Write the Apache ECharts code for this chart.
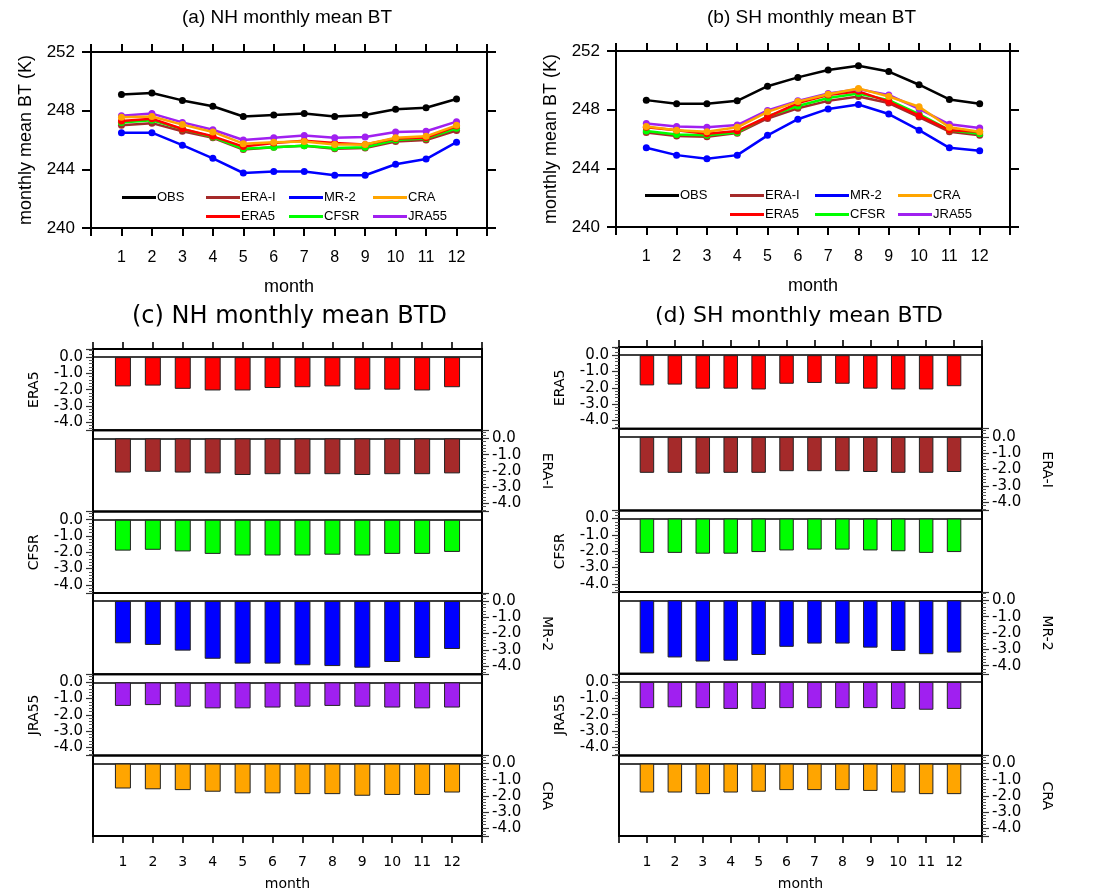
<!DOCTYPE html>
<html>
<head>
<meta charset="utf-8">
<script src="https://cdn.jsdelivr.net/npm/echarts@6/dist/echarts.min.js"></script>
<style>
html,body{margin:0;padding:0;background:#fff;}
#chart{width:1093px;height:892px;}
</style>
</head>
<body>
<div id="chart"></div>
<script>
// ---------------- DATA ----------------
const months = [1,2,3,4,5,6,7,8,9,10,11,12];
const monthLabels = ['1','2','3','4','5','6','7','8','9','10','11','12'];
const btTicks = [240, 244, 248, 252];
const lineSeriesNames = ['OBS','ERA-I','MR-2','CRA','ERA5','CFSR','JRA55'];
const barPanelNames = ['ERA5','ERA-I','CFSR','MR-2','JRA55','CRA'];
const legendRow1 = ['OBS','ERA-I','MR-2','CRA'];
const legendRow2 = ['ERA5','CFSR','JRA55'];

// (a) NH monthly mean BT (K)
const nhOBS   = [249.1, 249.2, 248.7, 248.3, 247.6, 247.7, 247.8, 247.6, 247.7, 248.1, 248.2, 248.8];
const nhERAI  = [247.0, 247.15, 246.6, 246.15, 245.35, 245.5, 245.6, 245.4, 245.45, 245.9, 246.0, 246.65];
const nhMR2   = [246.5, 246.5, 245.65, 244.75, 243.75, 243.85, 243.85, 243.6, 243.6, 244.35, 244.7, 245.85];
const nhCRA   = [247.55, 247.6, 247.05, 246.55, 245.75, 245.85, 245.9, 245.7, 245.7, 246.15, 246.25, 247.0];
const nhERA5  = [247.3, 247.45, 246.75, 246.25, 245.55, 245.8, 245.95, 245.8, 245.7, 246.1, 246.15, 246.95];
const nhCFSR  = [247.2, 247.35, 246.75, 246.2, 245.4, 245.5, 245.6, 245.45, 245.5, 246.0, 246.1, 246.8];
const nhJRA55 = [247.65, 247.8, 247.2, 246.7, 246.0, 246.15, 246.3, 246.15, 246.2, 246.55, 246.6, 247.25];

// (b) SH monthly mean BT (K)
const shOBS   = [248.65, 248.4, 248.4, 248.6, 249.6, 250.2, 250.7, 251.0, 250.6, 249.7, 248.7, 248.4];
const shERAI  = [246.45, 246.2, 246.15, 246.4, 247.4, 248.1, 248.6, 248.9, 248.45, 247.5, 246.5, 246.25];
const shMR2   = [245.4, 244.9, 244.65, 244.9, 246.25, 247.35, 248.05, 248.35, 247.7, 246.6, 245.4, 245.2];
const shCRA   = [246.85, 246.6, 246.5, 246.8, 247.85, 248.55, 249.05, 249.45, 248.9, 248.2, 246.8, 246.5];
const shERA5  = [246.8, 246.6, 246.35, 246.55, 247.5, 248.45, 249.0, 249.25, 248.55, 247.6, 246.6, 246.5];
const shCFSR  = [246.55, 246.3, 246.25, 246.45, 247.55, 248.25, 248.8, 249.1, 248.65, 247.7, 246.6, 246.35];
const shJRA55 = [247.05, 246.85, 246.8, 246.95, 247.95, 248.6, 249.1, 249.4, 249.0, 248.05, 247.0, 246.75];

// (c) NH monthly mean BTD (K)
const nhBtdERA5  = [-1.8, -1.75, -1.95, -2.05, -2.05, -1.9, -1.85, -1.8, -2.0, -2.0, -2.05, -1.85];
const nhBtdERAI  = [-2.1, -2.05, -2.1, -2.15, -2.25, -2.2, -2.2, -2.2, -2.25, -2.2, -2.2, -2.15];
const nhBtdCFSR  = [-1.9, -1.85, -1.95, -2.1, -2.2, -2.2, -2.2, -2.15, -2.2, -2.1, -2.1, -1.98];
const nhBtdMR2   = [-2.6, -2.7, -3.05, -3.55, -3.85, -3.85, -3.95, -4.0, -4.1, -3.75, -3.5, -2.95];
const nhBtdJRA55 = [-1.45, -1.4, -1.5, -1.6, -1.6, -1.55, -1.5, -1.45, -1.5, -1.55, -1.6, -1.55];
const nhBtdCRA   = [-1.55, -1.6, -1.65, -1.75, -1.85, -1.85, -1.9, -1.9, -2.0, -1.95, -1.95, -1.8];

// (d) SH monthly mean BTD (K)
const shBtdERA5  = [-1.85, -1.8, -2.05, -2.05, -2.1, -1.75, -1.7, -1.75, -2.05, -2.1, -2.1, -1.9];
const shBtdERAI  = [-2.2, -2.2, -2.25, -2.2, -2.2, -2.1, -2.1, -2.1, -2.15, -2.2, -2.2, -2.15];
const shBtdCFSR  = [-2.1, -2.1, -2.15, -2.15, -2.05, -1.95, -1.9, -1.9, -1.95, -2.0, -2.1, -2.05];
const shBtdMR2   = [-3.25, -3.5, -3.75, -3.7, -3.35, -2.85, -2.65, -2.65, -2.9, -3.1, -3.3, -3.2];
const shBtdJRA55 = [-1.6, -1.55, -1.6, -1.65, -1.65, -1.6, -1.6, -1.6, -1.6, -1.65, -1.7, -1.65];
const shBtdCRA   = [-1.8, -1.8, -1.9, -1.8, -1.75, -1.65, -1.65, -1.65, -1.7, -1.8, -1.9, -1.9];

// ---------------- STYLE ----------------
const colors = {
  'OBS':'#000000','ERA-I':'#a52a2a','MR-2':'#0000ff','CRA':'#ffa500',
  'ERA5':'#ff0000','CFSR':'#00ff00','JRA55':'#a020f0'
};
const FONT_TOP = '"Liberation Sans", Arial, sans-serif';
const FONT_BOT = '"DejaVu Sans", sans-serif';

const nhLines = {'OBS':nhOBS,'ERA-I':nhERAI,'MR-2':nhMR2,'CRA':nhCRA,'ERA5':nhERA5,'CFSR':nhCFSR,'JRA55':nhJRA55};
const shLines = {'OBS':shOBS,'ERA-I':shERAI,'MR-2':shMR2,'CRA':shCRA,'ERA5':shERA5,'CFSR':shCFSR,'JRA55':shJRA55};
const nhBars = {'ERA5':nhBtdERA5,'ERA-I':nhBtdERAI,'CFSR':nhBtdCFSR,'MR-2':nhBtdMR2,'JRA55':nhBtdJRA55,'CRA':nhBtdCRA};
const shBars = {'ERA5':shBtdERA5,'ERA-I':shBtdERAI,'CFSR':shBtdCFSR,'MR-2':shBtdMR2,'JRA55':shBtdJRA55,'CRA':shBtdCRA};

const grids = [], xAxes = [], yAxes = [], series = [], legends = [], graphics = [];

function monthFmt(v){ const i = months.indexOf(v); return i >= 0 ? monthLabels[i] : ''; }
function btdFmt(v){ return Math.abs(v - Math.round(v)) < 1e-6 ? v.toFixed(1) : ''; }

const blackLine = w => ({color:'#000', width:w});

function addLinePanel(rect, data, title, titleX, legendX, legendY) {
  const gi = grids.length;
  grids.push(Object.assign({show:false}, rect));
  const xi = xAxes.length;
  xAxes.push({gridIndex:gi, type:'value', min:0, max:13, interval:1, position:'bottom',
    axisLine:{show:true, onZero:false, lineStyle:blackLine(2)},
    axisTick:{show:true, length:8, lineStyle:blackLine(2)},
    axisLabel:{show:true, margin:22, color:'#000', fontSize:16, fontFamily:FONT_TOP, formatter:monthFmt},
    splitLine:{show:false},
    name:'month', nameLocation:'middle', nameGap:50,
    nameTextStyle:{color:'#000', fontSize:18, fontFamily:FONT_TOP}});
  xAxes.push({gridIndex:gi, type:'value', min:0, max:13, interval:1, position:'top',
    axisLine:{show:true, onZero:false, lineStyle:blackLine(2)},
    axisTick:{show:true, length:8, lineStyle:blackLine(2)},
    axisLabel:{show:false}, splitLine:{show:false}});
  const yi = yAxes.length;
  yAxes.push({gridIndex:gi, type:'value', min:btTicks[0], max:btTicks[btTicks.length-1], interval:4, position:'left',
    axisLine:{show:true, onZero:false, lineStyle:blackLine(2)},
    axisTick:{show:true, length:9, lineStyle:blackLine(2)},
    axisLabel:{show:true, margin:16, color:'#000', fontSize:17, fontFamily:FONT_TOP},
    splitLine:{show:false},
    name:'monthly mean BT (K)', nameLocation:'middle', nameGap:56, nameRotate:90,
    nameTextStyle:{color:'#000', fontSize:18, fontFamily:FONT_TOP}});
  yAxes.push({gridIndex:gi, type:'value', min:btTicks[0], max:btTicks[btTicks.length-1], interval:4, position:'right',
    axisLine:{show:true, onZero:false, lineStyle:blackLine(2)},
    axisTick:{show:true, length:9, lineStyle:blackLine(2)},
    axisLabel:{show:false}, splitLine:{show:false}});
  const order = ['OBS','MR-2','ERA-I','CFSR','ERA5','JRA55','CRA'];
  order.forEach((name, k) => {
    const c = colors[name];
    series.push({type:'line', name, xAxisIndex:xi, yAxisIndex:yi,
      data: months.map((m,i)=>[m, data[name][i]]),
      symbol:'circle', symbolSize:7, showSymbol:true,
      lineStyle:{color:c, width:2.5}, itemStyle:{color:c}, z:2+k, animation:false});
  });
  graphics.push({type:'text', left:titleX, top:8, style:{text:title, fill:'#000', font:'19px ' + FONT_TOP}});
  legendRow1.forEach((name, k) => legends.push(makeLegend(name, legendX[k], legendY[0])));
  legendRow2.forEach((name, k) => legends.push(makeLegend(name, legendX[k+1], legendY[1])));
}

function makeLegend(name, x, y) {
  return {data:[{name, icon:'rect'}], left:x, top:y - 8, orient:'horizontal', selectedMode:false,
    itemWidth:34, itemHeight:3, itemGap:0, padding:0,
    textStyle:{color:'#000', fontSize:13, fontFamily:FONT_TOP, padding:[0,0,0,-4]}};
}

function addBarPanel(left, top, width, subH, data, barWidth, title, titleX, titleSize) {
  barPanelNames.forEach((name, k) => {
    const gi = grids.length;
    grids.push({show:true, left, top: top + k*subH, width, height: subH,
      borderColor:'#000', borderWidth:2, backgroundColor:'transparent'});
    const xi = xAxes.length;
    xAxes.push({gridIndex:gi, type:'value', min:0, max:13, interval:1, position:'bottom',
      axisLine:{show:true, onZero:true, lineStyle:blackLine(1.6)},
      axisTick:{show:false}, axisLabel:{show:false}, splitLine:{show:false}});
    if (k === 0) {
      xAxes.push({gridIndex:gi, type:'value', min:0, max:13, interval:1, position:'top',
        axisLine:{show:false, onZero:false}, axisTick:{show:true, length:7, lineStyle:blackLine(1.6)},
        axisLabel:{show:false}, splitLine:{show:false}});
    }
    if (k === barPanelNames.length - 1) {
      xAxes.push({gridIndex:gi, type:'value', min:0, max:13, interval:1, position:'bottom',
        axisLine:{show:false, onZero:false}, axisTick:{show:true, length:7, lineStyle:blackLine(1.6)},
        axisLabel:{show:true, margin:19, color:'#000', fontSize:14, fontFamily:FONT_BOT, formatter:monthFmt},
        splitLine:{show:false},
        name:'month', nameLocation:'middle', nameGap:41,
        nameTextStyle:{color:'#000', fontSize:14, fontFamily:FONT_BOT}});
    }
    const right = (k % 2 === 1);
    const yi = yAxes.length;
    yAxes.push({gridIndex:gi, type:'value', min:-4.5, max:0.5, splitNumber:5, position: right ? 'right' : 'left',
      axisLine:{show:false, onZero:false},
      axisTick:{show:true, length:7, lineStyle:{color:'#333', width:1.2}},
      minorTick:{show:true, splitNumber:5, length:4, lineStyle:{color:'#555', width:1}},
      axisLabel:{show:true, margin:10, color:'#000', fontSize:15, fontFamily:FONT_BOT, formatter:btdFmt},
      splitLine:{show:false},
      name, nameLocation:'middle', nameGap: right ? 58 : 52, nameRotate: right ? -90 : 90,
      nameTextStyle:{color:'#000', fontSize:14, fontFamily:FONT_BOT}});
    series.push({type:'bar', name:'BTD ' + name, xAxisIndex:xi, yAxisIndex:yi, barWidth,
      data: months.map((m,i)=>[m, data[name][i]]),
      itemStyle:{color:colors[name], borderColor:'#222', borderWidth:1}, animation:false});
  });
  graphics.push({type:'text', left:titleX, top:305, style:{text:title, fill:'#000', font:titleSize + 'px ' + FONT_BOT}});
}

addLinePanel({left:91, top:52, width:396, height:176}, nhLines, '(a) NH monthly mean BT', 182, [122,206,289,373], [199,218]);
addLinePanel({left:616, top:51, width:394, height:176}, shLines, '(b) SH monthly mean BT', 707, [645,730,815,898], [197,216]);
addBarPanel(93, 349, 389, 81.3, nhBars, 16, '(c) NH monthly mean BTD', 132, 24);
addBarPanel(619, 347, 363, 81.7, shBars, 14.5, '(d) SH monthly mean BTD', 655, 22);

const chart = echarts.init(document.getElementById('chart'), null, {renderer:'canvas'});
chart.setOption({
  backgroundColor:'#fff',
  animation:false,
  grid: grids, xAxis: xAxes, yAxis: yAxes, series, legend: legends, graphic: graphics
});
</script>
</body>
</html>
